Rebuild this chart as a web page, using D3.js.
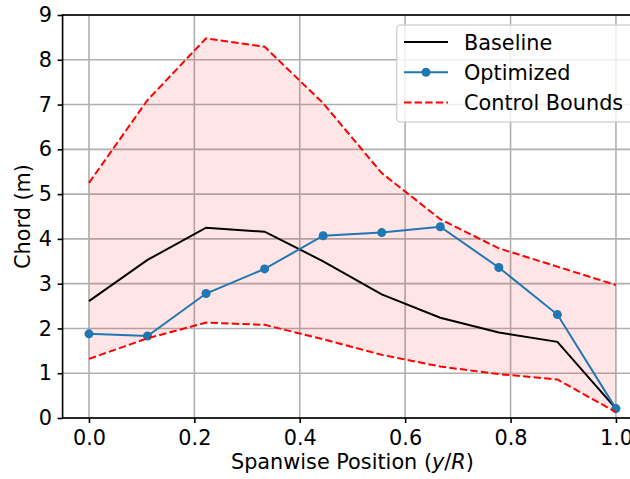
<!DOCTYPE html>
<html>
<head>
<meta charset="utf-8">
<script src="https://cdn.jsdelivr.net/npm/d3@7"></script>
<style>
  body { margin: 0; background: #fff; }
  svg { display: block; font-family: "DejaVu Sans", sans-serif; }
</style>
</head>
<body>
<div id="chart"></div>
<script>
// spanwise stations (y/R)
var positions = [0, 1/9, 2/9, 3/9, 4/9, 5/9, 6/9, 7/9, 8/9, 1];
var baseline = [2.61, 3.53, 4.25, 4.16, 3.5, 2.76, 2.24, 1.91, 1.70, 0.21];
var optimized = [1.88, 1.83, 2.78, 3.33, 4.07, 4.14, 4.27, 3.36, 2.31, 0.21];
var upperBound = [5.25, 7.1, 8.48, 8.29, 7.03, 5.47, 4.44, 3.79, 3.38, 2.97];
var lowerBound = [1.32, 1.78, 2.13, 2.08, 1.76, 1.41, 1.15, 0.98, 0.86, 0.13];
var xTicks = [0, 0.2, 0.4, 0.6, 0.8, 1.0];
var yTicks = [0, 1, 2, 3, 4, 5, 6, 7, 8, 9];

var fullWidth = 630, fullHeight = 479;
var box = { left: 62.6, right: 642.3, top: 15, bottom: 418 };
var fs = 20.8;

var svg = d3.select("#chart").append("svg")
    .attr("width", fullWidth)
    .attr("height", fullHeight);

var x = d3.scaleLinear().domain([-0.05, 1.05]).range([box.left, box.right]);
var y = d3.scaleLinear().domain([0, 9]).range([box.bottom, box.top]);

var rows = positions.map(function (p, i) {
    return { p: p, base: baseline[i], opt: optimized[i], hi: upperBound[i], lo: lowerBound[i] };
});

// grid
svg.append("g")
    .selectAll("line").data(xTicks).enter().append("line")
    .attr("x1", d => x(d)).attr("x2", d => x(d))
    .attr("y1", box.top).attr("y2", box.bottom)
    .attr("stroke", "#b0b0b0").attr("stroke-width", 1.6);
svg.append("g")
    .selectAll("line").data(yTicks).enter().append("line")
    .attr("x1", box.left).attr("x2", box.right)
    .attr("y1", d => y(d)).attr("y2", d => y(d))
    .attr("stroke", "#b0b0b0").attr("stroke-width", 1.6);

// control bounds band
var band = d3.area()
    .x(d => x(d.p))
    .y0(d => y(d.lo))
    .y1(d => y(d.hi));
svg.append("path").datum(rows)
    .attr("d", band)
    .attr("fill", "red").attr("fill-opacity", 0.1);

var line = d3.line().x(d => x(d[0])).y(d => y(d[1]));

svg.append("path")
    .datum(rows.map(d => [d.p, d.base]))
    .attr("d", line).attr("fill", "none")
    .attr("stroke", "black").attr("stroke-width", 2);

svg.append("path")
    .datum(rows.map(d => [d.p, d.opt]))
    .attr("d", line).attr("fill", "none")
    .attr("stroke", "#1f77b4").attr("stroke-width", 2);
svg.append("g").selectAll("circle").data(rows).enter().append("circle")
    .attr("cx", d => x(d.p)).attr("cy", d => y(d.opt)).attr("r", 4.5)
    .attr("fill", "#1f77b4");

[upperBound, lowerBound].forEach(function (b) {
    svg.append("path")
        .datum(positions.map((p, i) => [p, b[i]]))
        .attr("d", line).attr("fill", "none")
        .attr("stroke", "red").attr("stroke-width", 2)
        .attr("stroke-dasharray", "7.4,3.2");
});

// axes
var xAxis = svg.append("g")
    .attr("transform", "translate(0," + box.bottom + ")")
    .call(d3.axisBottom(x).tickValues(xTicks).tickFormat(d3.format(".1f")).tickSize(5).tickPadding(7));
var yAxis = svg.append("g")
    .attr("transform", "translate(" + box.left + ",0)")
    .call(d3.axisLeft(y).tickValues(yTicks).tickFormat(d3.format("d")).tickSize(5).tickPadding(5.6));
[xAxis, yAxis].forEach(function (a) {
    a.select(".domain").remove();
    a.selectAll("line").attr("stroke", "black").attr("stroke-width", 1.6);
    a.selectAll("text").attr("font-size", fs).attr("font-family", "DejaVu Sans").attr("fill", "black");
});

// frame
svg.append("rect")
    .attr("x", box.left).attr("y", box.top)
    .attr("width", box.right - box.left).attr("height", box.bottom - box.top)
    .attr("fill", "none").attr("stroke", "black").attr("stroke-width", 1.6);

// labels
var xl = svg.append("text")
    .attr("x", (box.left + box.right) / 2).attr("y", 469)
    .attr("text-anchor", "middle").attr("font-size", fs);
xl.append("tspan").text("Spanwise Position (");
xl.append("tspan").attr("font-style", "italic").text("y");
xl.append("tspan").text("/");
xl.append("tspan").attr("font-style", "italic").text("R");
xl.append("tspan").text(")");

svg.append("text")
    .attr("transform", "translate(29.6," + (box.top + box.bottom) / 2 + ") rotate(-90)")
    .attr("text-anchor", "middle").attr("font-size", fs)
    .text("Chord (m)");

// legend
var legend = svg.append("g");
legend.append("rect")
    .attr("x", 396.7).attr("y", 25).attr("width", 237).attr("height", 97).attr("rx", 4)
    .attr("fill", "white").attr("fill-opacity", 0.8)
    .attr("stroke", "#cccccc").attr("stroke-opacity", 0.8).attr("stroke-width", 1.6);

var legendItems = ["Baseline", "Optimized", "Control Bounds"];
var legendColors = ["black", "#1f77b4", "red"];
legendItems.forEach(function (name, i) {
    var cy = 42 + i * 30.2;
    var l = legend.append("line")
        .attr("x1", 404).attr("x2", 448).attr("y1", cy).attr("y2", cy)
        .attr("stroke", legendColors[i]).attr("stroke-width", 2);
    if (i === 2) l.attr("stroke-dasharray", "7.4,3.2");
    if (i === 1) legend.append("circle").attr("cx", 426).attr("cy", cy).attr("r", 4.5).attr("fill", legendColors[i]);
    legend.append("text")
        .attr("x", 464).attr("y", cy + 7.5)
        .attr("font-size", fs)
        .text(name);
});
</script>
</body>
</html>
